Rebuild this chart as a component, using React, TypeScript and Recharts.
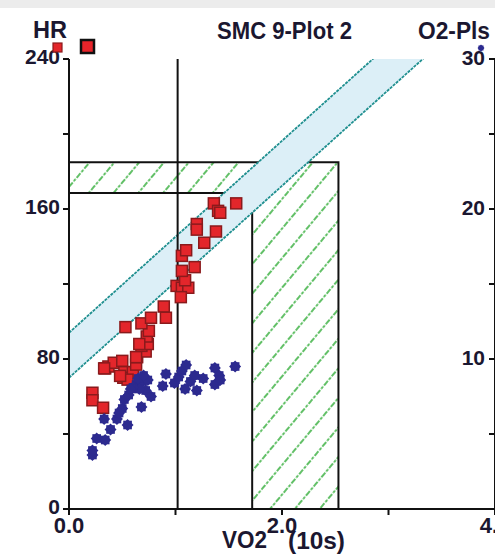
import {
  ComposedChart,
  XAxis,
  YAxis,
  Scatter,
  Area,
  Line,
  ReferenceArea,
  ReferenceLine,
} from 'recharts';

// HR (red squares, left axis) against VO2
const hrVo2 = [
  0.22, 0.22, 0.32, 0.34, 0.37, 0.42, 0.5, 0.52, 0.51, 0.6, 0.63, 0.64, 0.72, 0.68, 0.74, 0.73,
  0.75, 0.68, 0.77, 0.53, 0.89, 0.91, 1.01, 1.06, 1.12, 1.09, 1.05, 1.06, 1.18, 1.06, 1.1, 1.27,
  1.2, 1.2, 1.38, 1.36, 1.4, 1.42, 1.57, 0.66, 0.55, 0.48, 0.33, 0.63,
];
const hrValues = [
  62, 58, 54, 75, 76, 78, 79, 73, 70, 73, 77, 81, 84, 87, 88, 92,
  95, 99, 102, 97, 108, 102, 119, 118, 118, 122, 113, 127, 129, 135, 138, 142,
  152, 149, 148, 163, 159, 158, 163, 88, 69, 71, 75, 81,
];

// O2 pulse (blue stars, right axis) against VO2
const pulseVo2 = [
  0.22, 0.22, 0.26, 0.34, 0.39, 0.33, 0.45, 0.55, 0.5, 0.52, 0.56, 0.68, 0.63, 0.69, 0.74, 0.72,
  0.77, 0.66, 0.6, 0.65, 0.7, 0.91, 0.88, 0.99, 1.03, 1.06, 1.1, 1.09, 1.14, 1.2, 1.18, 1.26,
  1.37, 1.41, 1.37, 1.42, 1.56, 0.47, 0.58,
];
const pulseValues = [
  3.6, 3.9, 4.7, 4.6, 5.3, 6.0, 6.0, 5.6, 6.7, 7.3, 7.6, 6.8, 8.3, 8.5, 8.6, 7.9,
  7.5, 8.0, 8.1, 8.7, 8.9, 9.0, 8.2, 8.4, 8.8, 9.2, 9.6, 8.0, 8.5, 7.9, 8.9, 8.7,
  9.4, 8.9, 8.3, 8.6, 9.5, 6.4, 8.0,
];

// normal band (two parallel limits)
const bandVo2 = [0, 3.4];
const bandLower = [70, 244];
const bandUpper = [94, 268];

// predicted max boxes
const outerBox = { vo2: 2.53, hr: 185 };
const innerBox = { vo2: 1.72, hr: 168.5 };
const thresholdVo2 = 1.02;

const xTicks = [0, 1, 2, 3, 4];
const hrTicks = [0, 40, 80, 120, 160, 200, 240];
const pulseTicks = [0, 5, 10, 15, 20, 25, 30];

const hrData = hrVo2.map((v, i) => ({ v, y: hrValues[i] }));
const pulseData = pulseVo2.map((v, i) => ({ v, y: pulseValues[i] }));
const bandData = bandVo2.map((v, i) => ({ v, lo: bandLower[i], hi: bandUpper[i] }));

const FONT = '"Liberation Sans", Arial, sans-serif';
const INK = '#1b1730';
const NAVY = '#2c2a8f';

const RedSquare = (p: any) => (
  <rect x={p.cx - 5.5} y={p.cy - 5.5} width={11} height={11} fill="#e3262b" stroke="#8a1a1c" strokeWidth={1.5} />
);

// 8-point blob: a square and a diamond on top of each other
const octo = (cx: number, cy: number, r: number) => {
  const s = r * 0.72;
  return (
    <g fill={NAVY}>
      <rect x={cx - s} y={cy - s} width={s * 2} height={s * 2} />
      <polygon points={`${cx},${cy - r} ${cx + r},${cy} ${cx},${cy + r} ${cx - r},${cy}`} />
    </g>
  );
};

const BlueStar = (p: any) => octo(p.cx, p.cy, 6);

const LeftTick = (p: any) =>
  p.payload.value % 80 === 0 ? (
    <text x={p.x} y={p.y} dy={5} textAnchor="end" fontFamily={FONT} fontWeight="bold" fontSize={21} fill={INK}>
      {p.payload.value}
    </text>
  ) : null;

const RightTick = (p: any) =>
  p.payload.value % 10 === 0 && p.payload.value > 0 ? (
    <text x={p.x} y={p.y} dy={6} textAnchor="end" fontFamily={FONT} fontWeight="bold" fontSize={21} fill={INK}>
      {p.payload.value}
    </text>
  ) : null;

const BottomTick = (p: any) =>
  p.payload.value % 2 === 0 ? (
    <text x={p.x} y={p.y} dy={15} textAnchor="middle" fontFamily={FONT} fontWeight="bold" fontSize={22} fill={INK}>
      {p.payload.value.toFixed(1)}
    </text>
  ) : null;

export default function App() {
  return (
    <div style={{ position: 'absolute', left: 0, top: 0, width: 495, height: 557, background: '#fff', overflow: 'hidden' }}>
      <div style={{ position: 'absolute', left: 0, top: 0, width: 495, height: 8, background: '#ececec' }} />
      <ComposedChart width={495} height={557} margin={{ top: 59, right: 0, bottom: 0, left: 0 }}>
        <defs>
          <pattern id="hatch" patternUnits="userSpaceOnUse" width={19} height={12} patternTransform="rotate(40)">
            <line x1={2} y1={0} x2={2} y2={12} stroke="#2eac35" strokeWidth={1.5} strokeDasharray="3 1.5" />
          </pattern>
        </defs>
        <XAxis
          dataKey="v"
          type="number"
          domain={[0, 4]}
          ticks={xTicks}
          interval={0}
          height={48}
          tickSize={6}
          tickMargin={3}
          tick={BottomTick}
          axisLine={{ stroke: '#111', strokeWidth: 2 }}
          tickLine={{ stroke: '#111', strokeWidth: 2 }}
        />
        <YAxis
          yAxisId="hr"
          dataKey="y"
          type="number"
          domain={[0, 240]}
          allowDataOverflow
          ticks={hrTicks}
          interval={0}
          width={69}
          tickSize={6}
          tickMargin={3}
          tick={LeftTick}
          axisLine={{ stroke: '#111', strokeWidth: 2 }}
          tickLine={{ stroke: '#111', strokeWidth: 2 }}
        />
        <YAxis
          yAxisId="pulse"
          dataKey="y"
          orientation="right"
          mirror
          type="number"
          domain={[0, 30]}
          ticks={pulseTicks}
          interval={0}
          width={5}
          tickSize={6}
          tickMargin={4}
          tick={RightTick}
          axisLine={{ stroke: '#111', strokeWidth: 2 }}
          tickLine={{ stroke: '#111', strokeWidth: 2 }}
        />
        <ReferenceArea
          yAxisId="hr"
          x1={0}
          x2={outerBox.vo2}
          y1={0}
          y2={outerBox.hr}
          fill="url(#hatch)"
          fillOpacity={1}
          stroke="#111"
          strokeWidth={2}
          zIndex={50}
        />
        <ReferenceArea
          yAxisId="hr"
          x1={0}
          x2={innerBox.vo2}
          y1={0}
          y2={innerBox.hr}
          fill="#fff"
          fillOpacity={1}
          stroke="#111"
          strokeWidth={2}
          zIndex={51}
        />
        <Area
          yAxisId="hr"
          data={bandData}
          dataKey={(d: any) => [d.lo, d.hi]}
          type="linear"
          stroke="none"
          fill="#dceff7"
          fillOpacity={1}
          isAnimationActive={false}
          zIndex={100}
        />
        <Line yAxisId="hr" data={bandData} dataKey="lo" type="linear" stroke="#1f8f8f" strokeWidth={1.8} strokeDasharray="3 1" dot={false} isAnimationActive={false} zIndex={150} />
        <Line yAxisId="hr" data={bandData} dataKey="hi" type="linear" stroke="#1f8f8f" strokeWidth={1.8} strokeDasharray="3 1" dot={false} isAnimationActive={false} zIndex={150} />
        <ReferenceLine yAxisId="hr" x={thresholdVo2} stroke="#111" strokeWidth={2} zIndex={450} />
        <Scatter yAxisId="hr" data={hrData} shape={RedSquare} isAnimationActive={false} zIndex={600} />
        <Scatter yAxisId="pulse" data={pulseData} shape={BlueStar} isAnimationActive={false} zIndex={610} />
      </ComposedChart>
      <svg width={495} height={557} style={{ position: 'absolute', left: 0, top: 0, pointerEvents: 'none' }}>
        <g fontFamily={FONT} fontWeight="bold" fill={INK}>
          <text x={33} y={38} fontSize={24} textLength={34} lengthAdjust="spacingAndGlyphs">HR</text>
          <text x={217} y={39} fontSize={24} textLength={135} lengthAdjust="spacingAndGlyphs">SMC 9-Plot 2</text>
          <text x={418} y={39} fontSize={24} textLength={72} lengthAdjust="spacingAndGlyphs">O2-Pls</text>
          <text x={222} y={548} fontSize={23} textLength={45} lengthAdjust="spacingAndGlyphs">VO2</text>
          <text x={288} y={549} fontSize={23} textLength={57} lengthAdjust="spacingAndGlyphs">(10s)</text>
        </g>
        <rect x={53} y={43} width={9} height={9} fill="#e3262b" stroke="#8a1a1c" strokeWidth={1.2} />
        <rect x={81} y={40} width={13} height={13} fill="#e8242a" stroke="#111" strokeWidth={2.5} />
        {octo(481, 48, 3.5)}
      </svg>
    </div>
  );
}
